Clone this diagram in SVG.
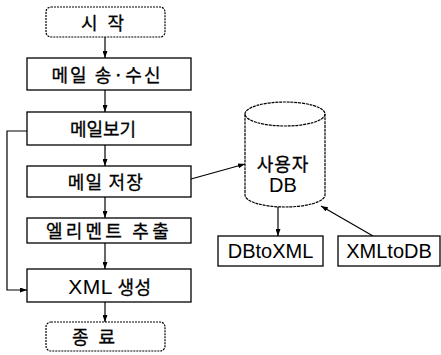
<svg xmlns="http://www.w3.org/2000/svg" width="441" height="355" viewBox="0 0 441 355">
<style>
.box{fill:#fff;stroke:#000;stroke-width:1.3}
.term{fill:#fff;stroke:#000;stroke-width:1.2;stroke-dasharray:2 1}
.kt{font-family:"Noto Sans CJK KR","Noto Sans",sans-serif;font-size:18px;fill:#000;stroke:#000;stroke-width:0.3;text-anchor:middle;dominant-baseline:central}
.lt{font-family:"Liberation Sans",Arial,sans-serif;font-size:20px;fill:#000;text-anchor:middle;dominant-baseline:central}
.ln{fill:none;stroke:#000;stroke-width:1.2}
</style>
<defs>
<marker id="ah" viewBox="0 0 7 5" refX="7" refY="2.5" markerWidth="7" markerHeight="5" markerUnits="userSpaceOnUse" orient="auto">
<path d="M0,0 L7,2.5 L0,5 Z" fill="#000"/>
</marker>
</defs>
<g id="connectors">
<line class="ln" x1="105" y1="37" x2="105" y2="58" marker-end="url(#ah)"/>
<line class="ln" x1="105" y1="90" x2="105" y2="112" marker-end="url(#ah)"/>
<line class="ln" x1="105" y1="145" x2="105" y2="166" marker-end="url(#ah)"/>
<line class="ln" x1="105" y1="197" x2="105" y2="218" marker-end="url(#ah)"/>
<line class="ln" x1="105" y1="243" x2="105" y2="269" marker-end="url(#ah)"/>
<line class="ln" x1="105" y1="302" x2="105" y2="322" marker-end="url(#ah)"/>
<polyline class="ln" points="27,131 7,131 7,290 27,290" marker-end="url(#ah)"/>
<line class="ln" x1="191" y1="179" x2="245" y2="164" marker-end="url(#ah)"/>
<line class="ln" x1="278" y1="207" x2="278" y2="236" marker-end="url(#ah)"/>
<line class="ln" x1="373" y1="236" x2="321" y2="206" marker-end="url(#ah)"/>
</g>
<g id="start">
<rect class="term" x="46" y="7" width="119" height="30" rx="5"/>
<text class="kt" x="104" y="22" xml:space="preserve" letter-spacing="3">시 작</text>
</g>
<g id="mail-send-recv">
<rect class="box" x="27" y="58" width="164" height="32"/>
<text class="kt" x="107" y="74" letter-spacing="2">메일 송·수신</text>
</g>
<g id="mail-view">
<rect class="box" x="27" y="112" width="164" height="33"/>
<text class="kt" x="103" y="128">메일보기</text>
</g>
<g id="mail-save">
<rect class="box" x="27" y="166" width="164" height="31"/>
<text class="kt" x="106" y="181" letter-spacing="1.2">메일 저장</text>
</g>
<g id="element-extract">
<rect class="box" x="27" y="218" width="164" height="25"/>
<text class="kt" x="109" y="230" letter-spacing="3.2">엘리멘트 추출</text>
</g>
<g id="xml-create">
<rect class="box" x="27" y="269" width="164" height="33"/>
<text class="kt" x="110" y="286" letter-spacing="0.5"><tspan font-family="Liberation Sans, Arial, sans-serif" font-size="21" stroke-width="0">XML</tspan> 생성</text>
</g>
<g id="end">
<rect class="term" x="46" y="322" width="119" height="29" rx="5"/>
<text class="kt" x="95" y="336" xml:space="preserve" letter-spacing="3">종 료</text>
</g>
<g id="user-db">
<path class="ln" stroke-dasharray="3 0.8" d="M245,114 L245,195 A40,12 0 0 0 325,195 L325,114" fill="#fff"/>
<ellipse class="ln" stroke-dasharray="3 0.8" cx="285" cy="114" rx="40" ry="12" fill="#fff"/>
<text class="kt" x="283" y="163" font-size="19" letter-spacing="1">사용자</text>
<text class="lt" x="283" y="185">DB</text>
</g>
<g id="dbtoxml">
<rect class="box" x="218" y="236" width="105" height="30"/>
<text class="lt" x="270.5" y="251">DBtoXML</text>
</g>
<g id="xmltodb">
<rect class="box" x="338" y="236" width="102" height="30"/>
<text class="lt" x="389" y="251">XMLtoDB</text>
</g>
</svg>
